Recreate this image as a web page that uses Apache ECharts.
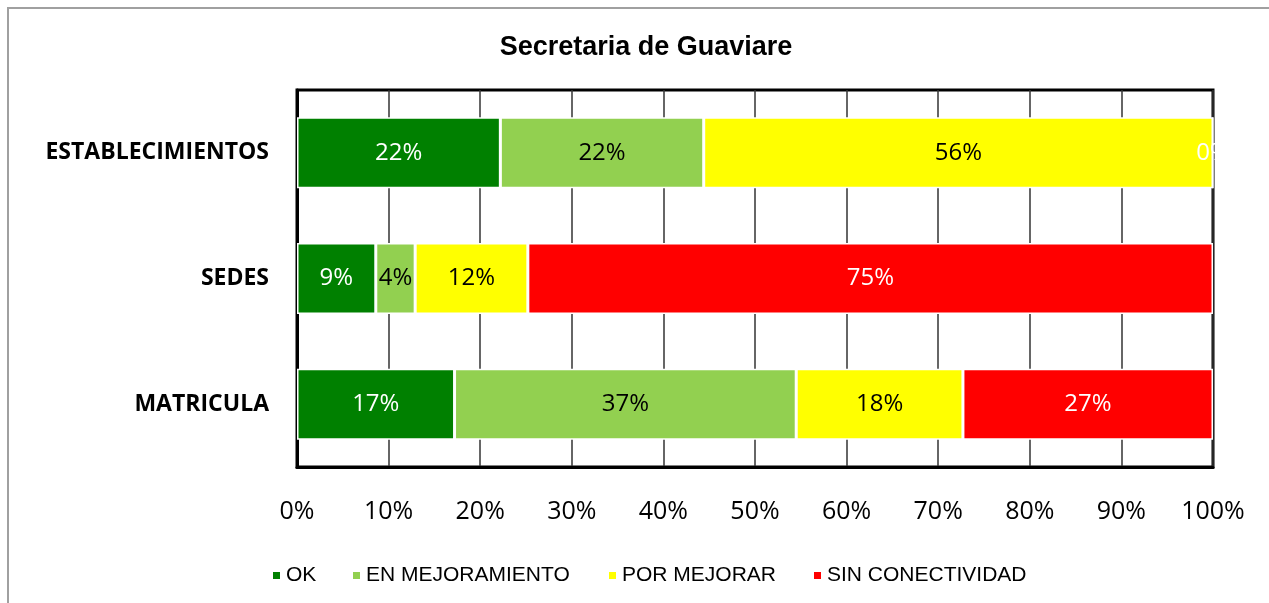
<!DOCTYPE html>
<html>
<head>
<meta charset="utf-8">
<script src="https://cdn.jsdelivr.net/npm/echarts@6/dist/echarts.min.js"></script>
<style>
  html, body { margin: 0; padding: 0; background: #fff; }
  #chart { width: 1269px; height: 603px; }
</style>
</head>
<body>
<div id="chart"></div>
<script>
// categories, bottom to top as echarts draws them
const categories = ["MATRICULA", "SEDES", "ESTABLECIMIENTOS"];
const seriesNames = ["OK", "EN MEJORAMIENTO", "POR MEJORAR", "SIN CONECTIVIDAD"];
const okValues = [17.2, 8.6, 22.2];
const mejoramientoValues = [37.3, 4.3, 22.2];
const porMejorarValues = [18.2, 12.3, 55.6];
const sinConectividadValues = [27.3, 74.8, 0];
const xTicks = [0, 10, 20, 30, 40, 50, 60, 70, 80, 90, 100];

const colors = ["#008000", "#92D050", "#FFFF00", "#FF0000"];
const labelColors = ["#fff", "#000", "#000", "#fff"];
const legendLeft = [266, 346, 602, 807];

const chart = echarts.init(document.getElementById("chart"));

const makeSeries = (name, data, i) => ({
  name: name,
  type: "bar",
  stack: "total",
  barWidth: 71,
  data: data,
  itemStyle: {
    color: colors[i],
    borderColor: "#fff",
    borderWidth: 1.5
  },
  label: {
    show: true,
    position: "inside",
    color: labelColors[i],
    fontFamily: "Open Sans",
    fontSize: 24,
    formatter: p => Math.round(p.value) + "%"
  }
});

const option = {
  animation: false,
  title: {
    text: "Secretaria de Guaviare",
    left: 641,
    textAlign: "center",
    top: 29,
    textStyle: {
      fontFamily: "Liberation Sans",
      fontWeight: "bold",
      fontSize: 27,
      color: "#000"
    }
  },
  legend: seriesNames.map((n, i) => ({
    data: [n],
    left: legendLeft[i],
    top: 560,
    icon: "rect",
    itemWidth: 9,
    itemHeight: 9,
    itemGap: 5,
    textStyle: {
      fontFamily: "Liberation Sans",
      fontSize: 21,
      color: "#000"
    }
  })),
  grid: {
    left: 297,
    right: 56,
    top: 90,
    bottom: 136,
    show: true,
    borderColor: "#000",
    borderWidth: 3
  },
  xAxis: {
    type: "value",
    min: 0,
    max: 100,
    interval: 10,
    axisLine: { show: true, lineStyle: { color: "#000", width: 3 } },
    axisTick: { show: false },
    splitLine: { show: true, lineStyle: { color: "#333", width: 1.5 } },
    axisLabel: {
      margin: 32,
      fontFamily: "Open Sans",
      fontSize: 25,
      color: "#000",
      formatter: v => (xTicks.includes(v) ? v + "%" : "")
    }
  },
  yAxis: {
    type: "category",
    data: categories,
    axisLine: { show: true, lineStyle: { color: "#000", width: 3 } },
    axisTick: { show: false },
    axisLabel: {
      margin: 28,
      fontFamily: "Open Sans",
      fontWeight: "bold",
      fontSize: 23,
      color: "#000"
    }
  },
  graphic: [{
    type: "rect",
    shape: { x: 8, y: 8, width: 1300, height: 700 },
    style: { fill: "none", stroke: "#a0a0a0", lineWidth: 2 },
    silent: true
  }],
  series: [
    makeSeries(seriesNames[0], okValues, 0),
    makeSeries(seriesNames[1], mejoramientoValues, 1),
    makeSeries(seriesNames[2], porMejorarValues, 2),
    makeSeries(seriesNames[3], sinConectividadValues, 3)
  ]
};

chart.setOption(option);
</script>
</body>
</html>
